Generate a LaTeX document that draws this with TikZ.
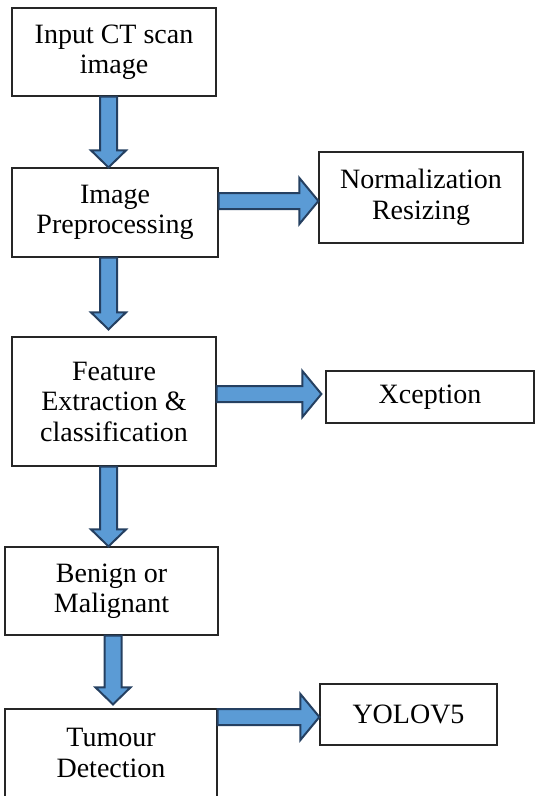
\documentclass[tikz,border=0pt]{standalone}
\usepackage{fontspec}
\setmainfont{Liberation Serif}
\usetikzlibrary{calc}
\definecolor{arrowfill}{RGB}{91,155,213}
\definecolor{arrowline}{RGB}{37,64,97}
\tikzset{
    stage/.style = {rectangle, draw=black!85, line width=1.2pt, align=center, fill=white, inner sep=0pt, font=\fontsize{28}{30.5}\selectfont},
    blockarrow/.style = {fill=arrowfill, draw=arrowline, line width=2pt, line join=miter}, % block arrows
}
% down arrow: x from #1, tail y from #1, tip y from #2
\newcommand{\flowdown}[2]{\draw[blockarrow] let \p1=(#1), \p2=(#2) in
  (\x1-8.5pt,\y1) -- (\x1-8.5pt,\y2+17pt) -- (\x1-17.5pt,\y2+17pt) -- (\x1,\y2)
  -- (\x1+17.5pt,\y2+17pt) -- (\x1+8.5pt,\y2+17pt) -- (\x1+8.5pt,\y1) -- cycle;}
% right arrow: y from #1, tail x from #1, tip x from #2
\newcommand{\flowright}[2]{\draw[blockarrow] let \p1=(#1), \p2=(#2) in
  (\x1,\y1+8pt) -- (\x2-19pt,\y1+8pt) -- (\x2-19pt,\y1+23pt) -- (\x2,\y1)
  -- (\x2-19pt,\y1-23pt) -- (\x2-19pt,\y1-8pt) -- (\x1,\y1-8pt) -- cycle;}

\begin{document}
\begin{tikzpicture}[x=1pt,y=-1pt]
\useasboundingbox (0,0) rectangle (535,796);
\node[stage, minimum width=204pt, minimum height=88pt] at (114,52) (input) {Input CT scan\\image};
\node[stage, minimum width=206pt, minimum height=89pt] at (115,212.5) (prep) {Image\\Preprocessing};
\node[stage, minimum width=204pt, minimum height=129pt] at (114,401.5) (feat) {Feature\\Extraction \&\\classification};
\node[stage, minimum width=213pt, minimum height=88pt] at (111.5,591) (benign) {Benign or\\Malignant};
\node[stage, minimum width=212pt, minimum height=88pt] at (111,753) (tumour) {Tumour\\Detection};
%
\node[stage, minimum width=204pt, minimum height=91pt] at (421,197.5) (norm) {Normalization\\Resizing};
\node[stage, minimum width=208pt, minimum height=52pt] at (430,397) (xcep) {Xception};
\node[stage, minimum width=177pt, minimum height=61pt] at (408.5,714.5) (yolo) {YOLOV5};
%
\flowdown{[xshift=-5.5pt]input.south}{prep.north}
\flowdown{[xshift=-6.5pt]prep.south}{[yshift=7pt]feat.north}
\flowdown{[xshift=-5.5pt]feat.south}{benign.north}
\flowdown{[xshift=1.5pt]benign.south}{[yshift=4pt]tumour.north}
%
\flowright{[yshift=11.5pt]prep.east}{norm.west}
\flowright{[yshift=7.5pt]feat.east}{[xshift=-4pt]xcep.west}
\flowright{[yshift=36pt]tumour.east}{yolo.west}
\end{tikzpicture}
\end{document}
